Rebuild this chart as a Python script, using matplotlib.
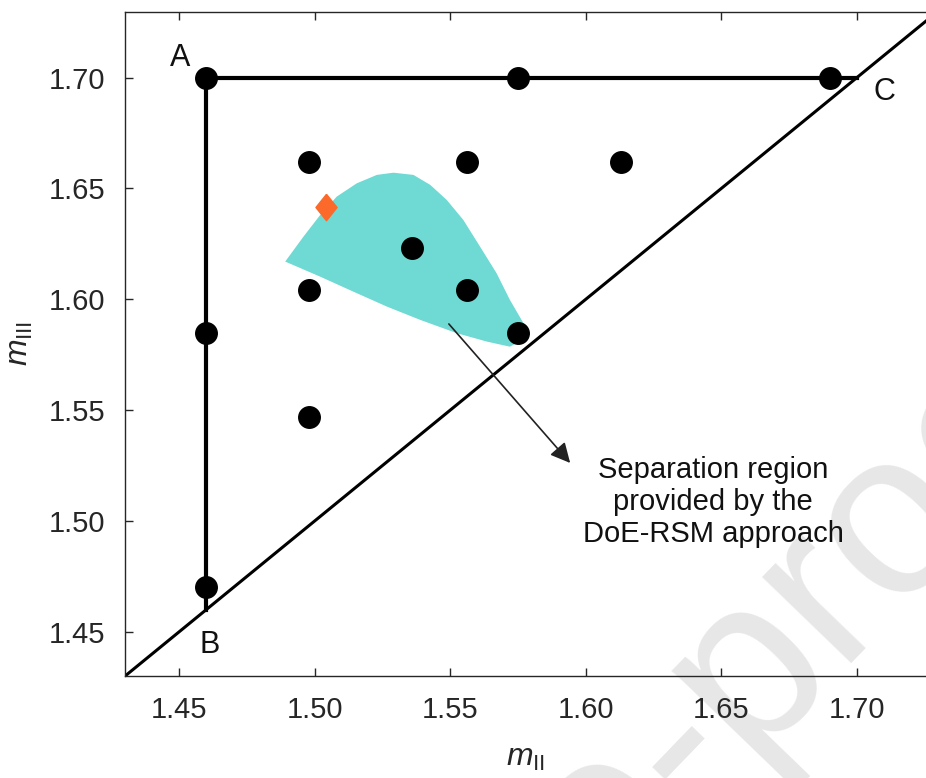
import numpy as np
import matplotlib
matplotlib.use("Agg")
import matplotlib.pyplot as plt
from matplotlib.textpath import TextPath
from matplotlib.font_manager import FontProperties

plt.rcParams['font.family'] = ['Liberation Sans', 'DejaVu Sans']
plt.rcParams['mathtext.fontset'] = 'custom'
plt.rcParams['mathtext.rm'] = 'Liberation Sans'
plt.rcParams['mathtext.it'] = 'Liberation Sans:italic'

# design points (m_II, m_III)
pts_x = [1.46, 1.575, 1.69, 1.46, 1.46, 1.498, 1.556, 1.613, 1.536, 1.498, 1.556, 1.575, 1.498]
pts_y = [1.70, 1.70, 1.70, 1.585, 1.47, 1.662, 1.662, 1.662, 1.623, 1.604, 1.604, 1.585, 1.547]

# optimum (orange diamond)
opt_x = [1.5042]
opt_y = [1.6418]

# separation region outline from DoE-RSM
reg_x = [1.4891, 1.4958, 1.5020, 1.5081, 1.5155, 1.5229, 1.5290, 1.5364, 1.5426, 1.5487,
         1.5548, 1.5610, 1.5671, 1.5720, 1.5770, 1.5788, 1.5720, 1.5635, 1.5524, 1.5389,
         1.5266, 1.5143, 1.5020]
reg_y = [1.6170, 1.6282, 1.6380, 1.6463, 1.6523, 1.6561, 1.6571, 1.6561, 1.6516, 1.6448,
         1.6358, 1.6237, 1.6117, 1.5997, 1.5892, 1.5831, 1.5786, 1.5809, 1.5847, 1.5907,
         1.5967, 1.6034, 1.6102]

# triangle boundary A-B-C
tri_x = [1.46, 1.46, 1.70]
tri_y = [1.46, 1.70, 1.70]
diag = [1.43, 1.73]

xticks = [1.45, 1.50, 1.55, 1.60, 1.65, 1.70]
yticks = [1.45, 1.50, 1.55, 1.60, 1.65, 1.70]

fig = plt.figure(figsize=(9.26, 7.78), dpi=100)
ax = fig.add_axes([0.135, 0.131, 0.865, 0.8536])
ax.set_facecolor('none')

# watermark, placed so the hyphen of "Pre-proof" sits near pixel (678, 752)
wm = 'Journal Pre-proof'
wm_size = 168
wm_ang = 46.0
fp = FontProperties(family='Liberation Sans', size=wm_size)
x_hyph_end = TextPath((0, 0), 'Journal Pre-', prop=fp).get_extents().xmax
w_hyph = TextPath((0, 0), '-', prop=fp).get_extents().width
px = 100 / 72.0
t = np.radians(wm_ang)
u = np.array([np.cos(t), np.sin(t)])
n = np.array([-np.sin(t), np.cos(t)])
c_h = np.array([678.0, 778 - 752.0])
anchor = c_h - (x_hyph_end - 0.5 * w_hyph) * px * u - 0.27 * wm_size * px * n
fig.text(anchor[0] / 926, anchor[1] / 778, wm, fontproperties=fp, color='#e7e7e7',
         rotation=wm_ang, rotation_mode='anchor', ha='left', va='baseline', zorder=-5)

ax.fill(reg_x, reg_y, color='#6fd9d3', lw=0, zorder=1)
ax.plot(diag, diag, color='black', lw=2.2, zorder=2)
ax.plot(tri_x, tri_y, color='black', lw=3, zorder=2)
ax.plot(pts_x, pts_y, 'o', color='black', ms=15.5, zorder=3)
diamond = [(0, 1), (0.8, 0), (0, -1), (-0.8, 0), (0, 1)]
ax.plot(opt_x, opt_y, marker=diamond, ls='none', color='#fb6a2a', ms=19, zorder=4)

ax.annotate('', xy=(1.5949, 1.5252), xytext=(1.5488, 1.5898),
            arrowprops=dict(arrowstyle='-|>', color='#222222', lw=1.2, mutation_scale=30))
ax.text(1.6469, 1.5085, 'Separation region\nprovided by the\nDoE-RSM approach',
        ha='center', va='center', fontsize=21, linespacing=1.2, color='#111111')

ax.text(1.4504, 1.7089, 'A', fontsize=22, ha='center', va='center', color='#111111')
ax.text(1.4611, 1.4440, 'B', fontsize=22, ha='center', va='center', color='#111111')
ax.text(1.7103, 1.6935, 'C', fontsize=22, ha='center', va='center', color='#111111')

ax.set_xlim(1.43, 1.7255)
ax.set_ylim(1.43, 1.7296)
ax.set_xticks(xticks)
ax.set_yticks(yticks)
ax.set_xticklabels(['%.2f' % v for v in xticks])
ax.set_yticklabels(['%.2f' % v for v in yticks])
ax.tick_params(direction='in', top=True, right=False, length=6, width=1,
               labelsize=21, colors='#262626', pad=14)
for s in ax.spines.values():
    s.set_color('#262626')
    s.set_linewidth(1)
ax.spines['right'].set_visible(False)

ax.set_xlabel(r'$m_{\mathrm{II}}$', fontsize=23, color='#262626', labelpad=14)
ax.set_ylabel(r'$m_{\mathrm{III}}$', fontsize=23, color='#262626', labelpad=10)

fig.savefig('out.png', dpi=100)
